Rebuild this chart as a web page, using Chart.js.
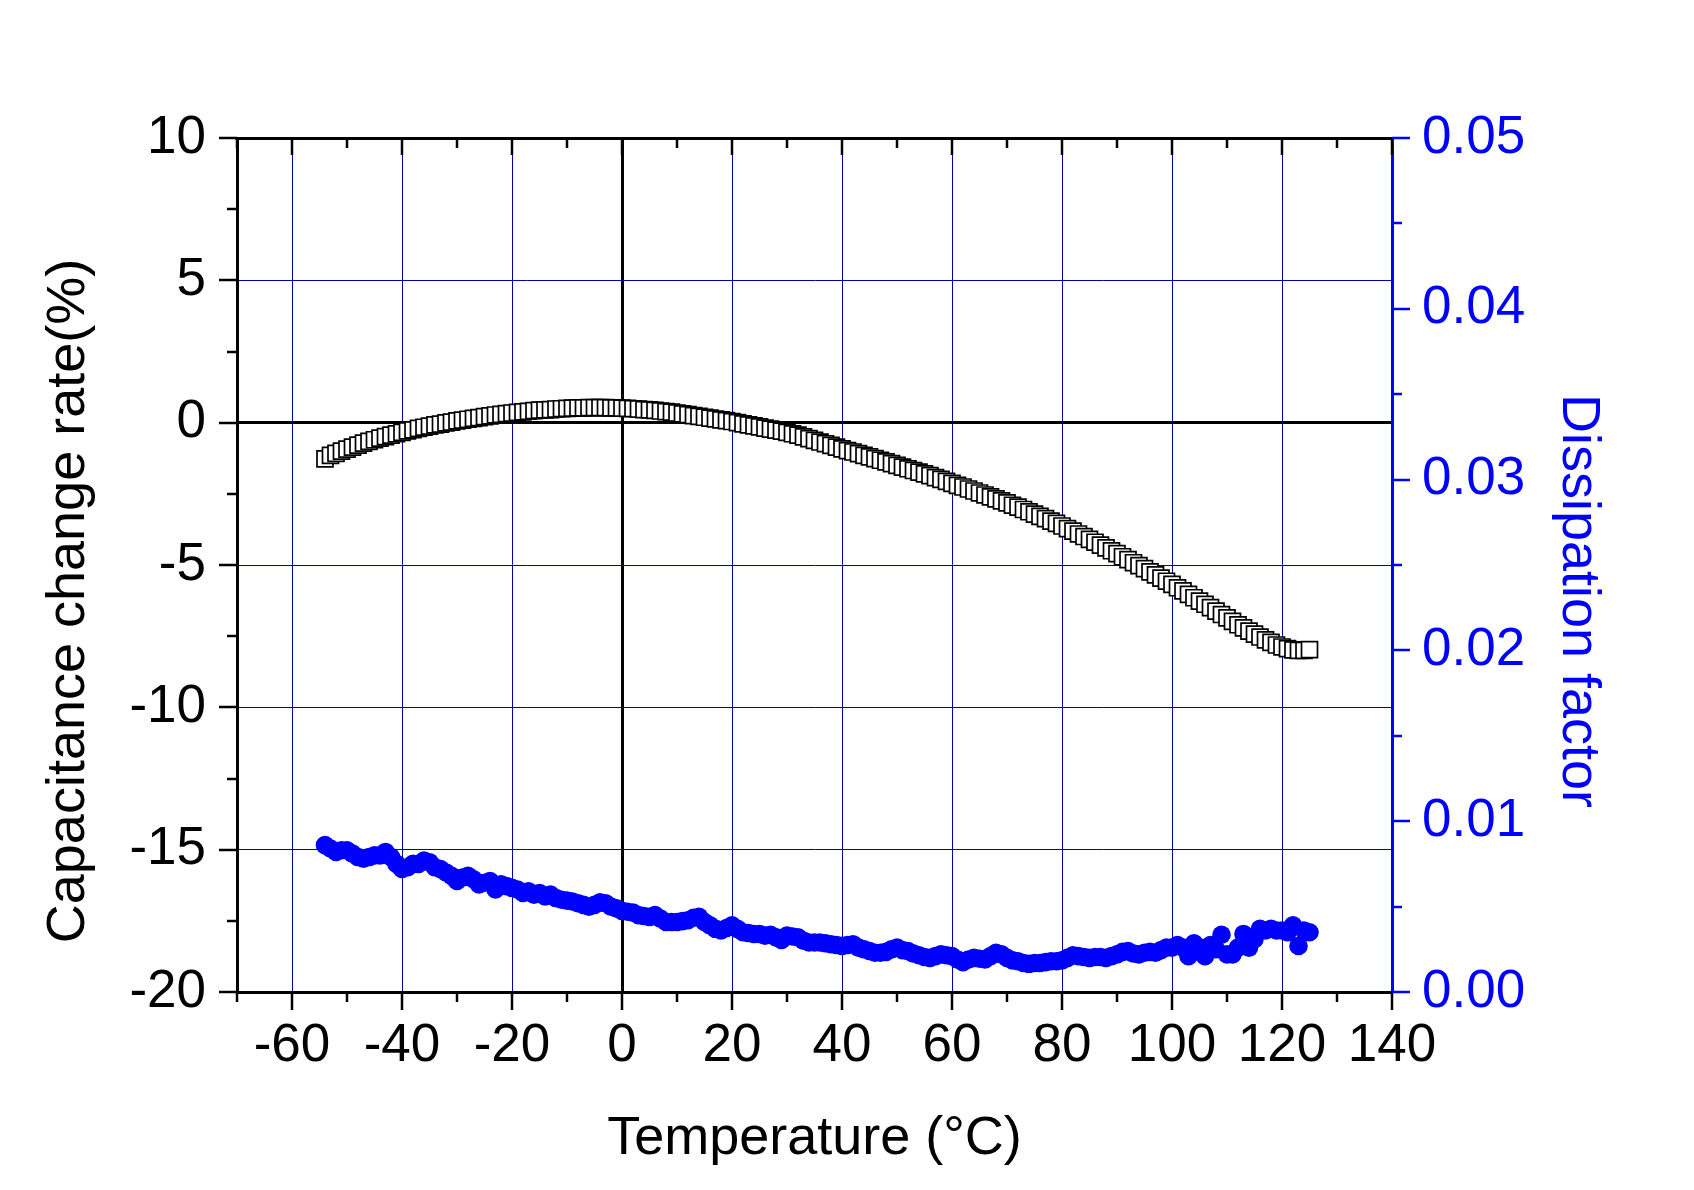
<!DOCTYPE html>
<html>
<head>
<meta charset="utf-8">
<script src="https://cdn.jsdelivr.net/npm/chart.js@4.4.1/dist/chart.umd.min.js"></script>
<style>
html,body{margin:0;padding:0;background:#fff;}
canvas{display:block;}
</style>
</head>
<body>
<canvas id="c" width="1694" height="1190"></canvas>
<script>
// ---------------- data ----------------
const temperatures = [
-54,-53,-52,-51,-50,-49,-48,-47,-46,-45,
-44,-43,-42,-41,-40,-39,-38,-37,-36,-35,
-34,-33,-32,-31,-30,-29,-28,-27,-26,-25,
-24,-23,-22,-21,-20,-19,-18,-17,-16,-15,
-14,-13,-12,-11,-10,-9,-8,-7,-6,-5,
-4,-3,-2,-1,0,1,2,3,4,5,
6,7,8,9,10,11,12,13,14,15,
16,17,18,19,20,21,22,23,24,25,
26,27,28,29,30,31,32,33,34,35,
36,37,38,39,40,41,42,43,44,45,
46,47,48,49,50,51,52,53,54,55,
56,57,58,59,60,61,62,63,64,65,
66,67,68,69,70,71,72,73,74,75,
76,77,78,79,80,81,82,83,84,85,
86,87,88,89,90,91,92,93,94,95,
96,97,98,99,100,101,102,103,104,105,
106,107,108,109,110,111,112,113,114,115,
116,117,118,119,120,121,122,123,124,125
];

const capacitanceChange = [
-1.27,-1.15,-1.08,-1.00,-0.93,-0.86,-0.79,-0.72,-0.66,-0.60,
-0.54,-0.49,-0.44,-0.39,-0.34,-0.29,-0.25,-0.20,-0.16,-0.12,
-0.08,-0.05,-0.01,0.02,0.06,0.09,0.12,0.15,0.18,0.21,
0.24,0.27,0.29,0.32,0.34,0.36,0.38,0.40,0.42,0.44,
0.45,0.46,0.48,0.49,0.50,0.51,0.52,0.52,0.53,0.53,
0.53,0.53,0.52,0.52,0.51,0.50,0.49,0.48,0.46,0.45,
0.43,0.41,0.39,0.37,0.34,0.31,0.28,0.25,0.22,0.19,
0.16,0.13,0.10,0.07,0.04,0.00,-0.04,-0.08,-0.11,-0.15,
-0.19,-0.23,-0.26,-0.30,-0.34,-0.39,-0.44,-0.50,-0.56,-0.62,
-0.68,-0.74,-0.80,-0.86,-0.92,-0.98,-1.03,-1.09,-1.15,-1.20,
-1.26,-1.32,-1.38,-1.44,-1.50,-1.56,-1.62,-1.68,-1.74,-1.80,
-1.86,-1.93,-1.99,-2.06,-2.13,-2.20,-2.26,-2.33,-2.40,-2.47,
-2.54,-2.61,-2.68,-2.75,-2.82,-2.90,-2.97,-3.05,-3.13,-3.21,
-3.29,-3.37,-3.46,-3.54,-3.63,-3.72,-3.81,-3.91,-4.00,-4.10,
-4.20,-4.30,-4.40,-4.50,-4.60,-4.71,-4.81,-4.92,-5.02,-5.13,
-5.24,-5.35,-5.46,-5.57,-5.68,-5.80,-5.91,-6.03,-6.15,-6.27,
-6.38,-6.50,-6.62,-6.74,-6.86,-6.98,-7.10,-7.21,-7.32,-7.43,
-7.53,-7.63,-7.72,-7.81,-7.88,-7.94,-7.98,-8.00,-8.00,-7.97
];

const dissipationFactor = [
0.0086,0.0084,0.0082,0.0083,0.0083,0.0081,0.0079,0.0078,0.0079,0.0080,
0.0080,0.0082,0.0079,0.0075,0.0072,0.0073,0.0075,0.0075,0.0077,0.0076,
0.0073,0.0072,0.0070,0.0068,0.0065,0.0067,0.0068,0.0066,0.0063,0.0064,
0.0065,0.0060,0.0063,0.0062,0.0061,0.0060,0.0058,0.0059,0.0057,0.0058,
0.0056,0.0057,0.0055,0.0054,0.00535,0.0053,0.0052,0.0051,0.0050,0.0051,
0.00525,0.0052,0.0050,0.0049,0.00475,0.0047,0.00465,0.0045,0.00445,0.0044,
0.0045,0.0043,0.0041,0.0041,0.0041,0.00415,0.0042,0.00435,0.0044,0.0041,
0.0039,0.0037,0.0036,0.00375,0.0039,0.0037,0.0035,0.00345,0.0034,0.0034,
0.0033,0.00335,0.0032,0.00305,0.0033,0.00325,0.0032,0.0030,0.0029,0.0029,
0.0029,0.00285,0.0028,0.00275,0.0027,0.00275,0.0028,0.0026,0.0025,0.0024,
0.0023,0.0023,0.00235,0.0025,0.0026,0.00245,0.0024,0.00225,0.00215,0.00205,
0.0020,0.0021,0.0022,0.00215,0.0021,0.0019,0.00175,0.0019,0.0020,0.00195,
0.0019,0.0021,0.0023,0.0022,0.0020,0.00185,0.0018,0.0017,0.00165,0.0017,
0.0017,0.00175,0.0018,0.0018,0.00185,0.0020,0.00215,0.0021,0.00205,0.0020,
0.00205,0.00205,0.0020,0.0021,0.0022,0.00235,0.0024,0.00225,0.0022,0.0023,
0.00235,0.0023,0.00245,0.0026,0.0026,0.00275,0.0026,0.0021,0.00285,0.0026,
0.0021,0.00275,0.0025,0.00335,0.0022,0.0022,0.0026,0.0034,0.0026,0.0031,
0.0037,0.0036,0.0037,0.0036,0.0036,0.0035,0.0039,0.0027,0.0036,0.0035
];

const xTitle = 'Temperature (°C)';
const yTitle = 'Capacitance change rate(%)';
const y2Title = 'Dissipation factor';

// ---------------- styling ----------------
const FAMILY = '"Liberation Sans", Arial, Helvetica, sans-serif';
const GRID_BLUE = '#0000AA';
const BLUE = '#0000FF';
const TICK_SIZE = 53;
const TITLE_SIZE = 54;

function isMult(v, step) {
  const r = v / step;
  return Math.abs(r - Math.round(r)) < 1e-6;
}

// ticks (major longer, minor shorter), top frame line and the y titles
const frameAndTitles = {
  id: 'frameAndTitles',
  afterDraw(chart) {
    const {ctx, chartArea: a, scales} = chart;
    const {x, y, y2} = scales;
    ctx.save();
    ctx.lineCap = 'butt';
    const seg = (x1, y1, x2, y2p) => { ctx.beginPath(); ctx.moveTo(x1, y1); ctx.lineTo(x2, y2p); ctx.stroke(); };

    // top frame line
    ctx.strokeStyle = '#000';
    ctx.lineWidth = 3;
    seg(a.left - 1.5, a.top + 0.5, a.right, a.top + 0.5);

    ctx.lineWidth = 2.5;
    x.ticks.forEach(t => {
      const px = Math.round(x.getPixelForValue(t.value));
      const major = isMult(t.value, 20);
      seg(px, a.bottom, px, a.bottom + (major ? 18 : 10));
      seg(px, a.top, px, a.top + (major ? 17 : 10));
    });
    y.ticks.forEach(t => {
      const py = Math.round(y.getPixelForValue(t.value));
      const major = isMult(t.value, 5);
      seg(a.left, py, a.left - (major ? 18 : 10), py);
    });
    ctx.strokeStyle = BLUE;
    y2.ticks.forEach(t => {
      const py = Math.round(y2.getPixelForValue(t.value));
      const major = isMult(t.value, 0.01);
      seg(a.right, py, a.right + (major ? 18 : 10), py);
    });

    // y titles
    ctx.font = TITLE_SIZE + 'px ' + FAMILY;
    ctx.textAlign = 'center';
    ctx.textBaseline = 'middle';
    const cy = (a.top + a.bottom) / 2 + 36;
    ctx.fillStyle = '#000';
    ctx.save();
    ctx.translate(69, cy);
    ctx.rotate(-Math.PI / 2);
    ctx.fillText(yTitle, 0, 0);
    ctx.restore();
    ctx.fillStyle = BLUE;
    ctx.save();
    ctx.translate(1578, cy);
    ctx.rotate(Math.PI / 2);
    ctx.fillText(y2Title, 0, 0);
    ctx.restore();
    ctx.restore();
  }
};

const capPoints = temperatures.map((t, i) => ({x: t, y: capacitanceChange[i]}));
const dfPoints = temperatures.map((t, i) => ({x: t, y: dissipationFactor[i]}));

new Chart(document.getElementById('c'), {
  type: 'scatter',
  data: {
    datasets: [
      {
        label: 'Capacitance change rate',
        data: capPoints,
        yAxisID: 'y',
        pointStyle: 'rect',
        pointRadius: 11.3,
        borderColor: '#000',
        backgroundColor: '#fff',
        borderWidth: 1.7
      },
      {
        label: 'Dissipation factor',
        data: dfPoints,
        yAxisID: 'y2',
        pointStyle: 'circle',
        pointRadius: 9.3,
        borderWidth: 0,
        borderColor: BLUE,
        backgroundColor: BLUE
      }
    ]
  },
  options: {
    responsive: false,
    animation: false,
    devicePixelRatio: 1,
    layout: {padding: {top: 138, left: 0, right: 0, bottom: 0}},
    plugins: {legend: {display: false}, tooltip: {enabled: false}},
    scales: {
      x: {
        type: 'linear',
        position: 'bottom',
        min: -70,
        max: 140,
        afterFit: s => { s.height = 198; },
        border: {display: true, color: '#000', width: 3},
        grid: {
          drawTicks: false,
          color: c => c.tick.value === 0 ? '#000' : (isMult(c.tick.value, 20) && c.tick.value !== 140 ? GRID_BLUE : 'rgba(0,0,0,0)'),
          lineWidth: c => c.tick.value === 0 ? 3 : 1
        },
        ticks: {
          stepSize: 10,
          autoSkip: false,
          maxRotation: 0,
          padding: 23,
          color: '#000',
          font: {family: FAMILY, size: TICK_SIZE},
          callback: v => isMult(v, 20) ? String(v) : ''
        },
        title: {
          display: true,
          text: xTitle,
          color: '#000',
          font: {family: FAMILY, size: TITLE_SIZE},
          padding: {top: 0, bottom: 18}
        }
      },
      y: {
        type: 'linear',
        position: 'left',
        min: -20,
        max: 10,
        afterFit: s => { s.width = 237; },
        border: {display: true, color: '#000', width: 3},
        grid: {
          drawTicks: false,
          color: c => c.tick.value === 0 ? '#000' : (isMult(c.tick.value, 5) && c.tick.value !== 10 && c.tick.value !== -20 ? GRID_BLUE : 'rgba(0,0,0,0)'),
          lineWidth: c => c.tick.value === 0 ? 3 : 1
        },
        ticks: {
          stepSize: 2.5,
          autoSkip: false,
          padding: 31,
          color: '#000',
          font: {family: FAMILY, size: TICK_SIZE},
          callback: v => isMult(v, 5) ? String(v) : ''
        }
      },
      y2: {
        type: 'linear',
        position: 'right',
        min: 0,
        max: 0.05,
        afterFit: s => { s.width = 302; },
        border: {display: true, color: BLUE, width: 3},
        grid: {drawOnChartArea: false, drawTicks: false},
        ticks: {
          stepSize: 0.005,
          autoSkip: false,
          padding: 30,
          color: BLUE,
          font: {family: FAMILY, size: TICK_SIZE},
          callback: v => isMult(v, 0.01) ? v.toFixed(2) : ''
        }
      }
    }
  },
  plugins: [frameAndTitles]
});
</script>
</body>
</html>
